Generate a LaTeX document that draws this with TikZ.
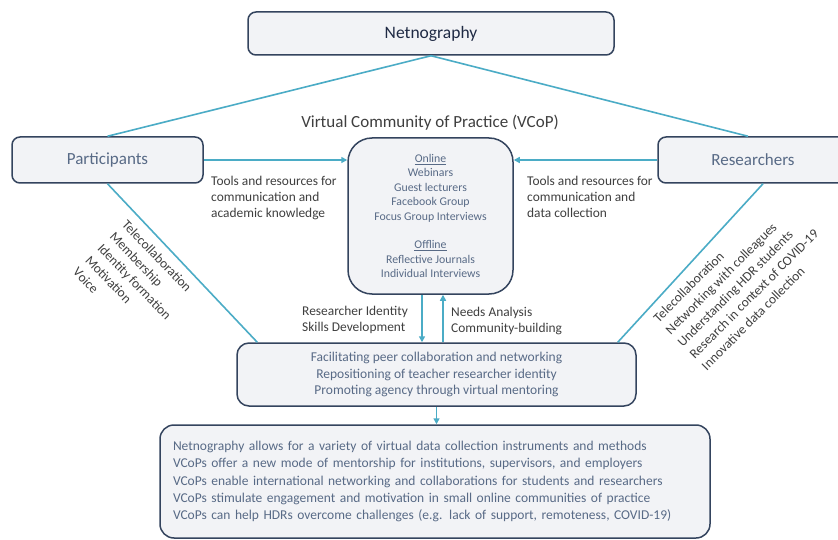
\documentclass[tikz,border=0pt]{standalone}
\usepackage{fontspec}
\setmainfont{Carlito}
\usetikzlibrary{arrows.meta}
\definecolor{navy}{HTML}{34445E}
\definecolor{navydark}{HTML}{1F2A44}
\definecolor{boxfill}{HTML}{F2F3F6}
\definecolor{linkteal}{HTML}{4BACC6}
\definecolor{slate}{HTML}{586A86}
\definecolor{labelgray}{HTML}{3F3F3F}
\begin{document}
\begin{tikzpicture}[x=1pt,y=-1pt,
	box/.style={draw=navy, line width=1.5pt, fill=boxfill, rounded corners=8pt},
	link/.style={draw=linkteal, line width=1.6pt},
	flow/.style={link, -{Triangle[length=6pt,width=6pt]}},
	note/.style={text=labelgray, font=\fontsize{13.4}{16.3}\selectfont, align=left, inner sep=0pt},
	turned/.style={text=labelgray, font=\fontsize{13.4}{17}\selectfont, align=left, inner sep=0pt, anchor=north west}]
	\useasboundingbox (0,0) rectangle (838,540);
	\clip (0,0) rectangle (838,540);
	\fill[white] (0,0) rectangle (838,540);

	\node[box, minimum width=366pt, minimum height=43pt, text=navydark, font=\fontsize{17.5}{20}\selectfont] (netno) at (431,33.5) {Netnography};
	\node[box, minimum width=191pt, minimum height=46pt, text=slate, font=\fontsize{17}{20}\selectfont] (part) at (107.5,160) {Participants};
	\node[box, minimum width=190pt, minimum height=46pt, text=slate, font=\fontsize{17}{20}\selectfont] (res) at (753,160) {Researchers};
	\node[text=labelgray, font=\fontsize{17}{20}\selectfont] (title) at (430,123) {Virtual Community of Practice (VCoP)};
	\node[box, rounded corners=24pt, minimum width=165pt, minimum height=156pt, text=slate, align=center, font=\fontsize{11.8}{14.4}\selectfont] (vcop) at (430.5,216) {\underline{Online}\\Webinars\\Guest lecturers\\Facebook Group\\Focus Group Interviews\\[14.4pt]\underline{Offline}\\Reflective Journals\\Individual Interviews};
	\node[box, rounded corners=12pt, minimum width=399pt, minimum height=63pt, text=slate, align=center, font=\fontsize{13.5}{16.5}\selectfont] (midbox) at (436.5,374.5) {Facilitating peer collaboration and networking\\Repositioning of teacher researcher identity\\Promoting agency through virtual mentoring};
	\node[box, rounded corners=14pt, text width=524pt, inner xsep=13pt, minimum height=113pt, text=slate, align=left, font=\fontsize{13.5}{17.3}\selectfont] (outbox) at (435,481.5) {Netnography allows for a variety of virtual data collection instruments and methods\\VCoPs offer a new mode of mentorship for institutions, supervisors, and employers\\VCoPs enable international networking and collaborations for students and researchers\\VCoPs stimulate engagement and motivation in small online communities of practice\\VCoPs can help HDRs overcome challenges (e.g. lack of support, remoteness, COVID-19)};

	\node[note, anchor=north west] (toolsP) at (211,175.5) {Tools and resources for\\communication and\\academic knowledge};
	\node[note, anchor=north west] (toolsR) at (527,175.5) {Tools and resources for\\communication and\\data collection};
	\node[note, anchor=north west] (skills) at (302,305.5) {Researcher Identity\\Skills Development};
	\node[note, anchor=north west] (needs) at (451,307) {Needs Analysis\\Community-building};
	\node[turned, rotate=-46] (partlist) at (128,219) {Telecollaboration\\Membership\\Identity formation\\Motivation\\Voice};
	\node[turned, rotate=45] (reslist) at (652,316.5) {Telecollaboration\\Networking with colleagues\\Understanding HDR students\\Research in context of COVID-19\\Innovative data collection};

	\draw[link] (netno.south) -- (part.north);
	\draw[link] (netno.south) -- ([xshift=-5pt]res.north);
	\draw[link] (part.south) -- ([xshift=21pt]midbox.north west);
	\draw[link] ([xshift=10pt]res.south) -- ([xshift=-19pt]midbox.north east);
	\draw[flow] (part.east) -- (part.east -| vcop.west);
	\draw[flow] (res.west) -- (res.west -| vcop.east);
	\coordinate (dnTop) at ([xshift=-8.5pt]vcop.south);
	\coordinate (upTop) at ([xshift=12.5pt]vcop.south);
	\draw[flow] (dnTop) -- (dnTop |- midbox.north);
	\draw[flow] (upTop |- midbox.north) -- (upTop);
	\draw[flow] (midbox.south) -- (midbox.south |- outbox.north);
\end{tikzpicture}
\end{document}
